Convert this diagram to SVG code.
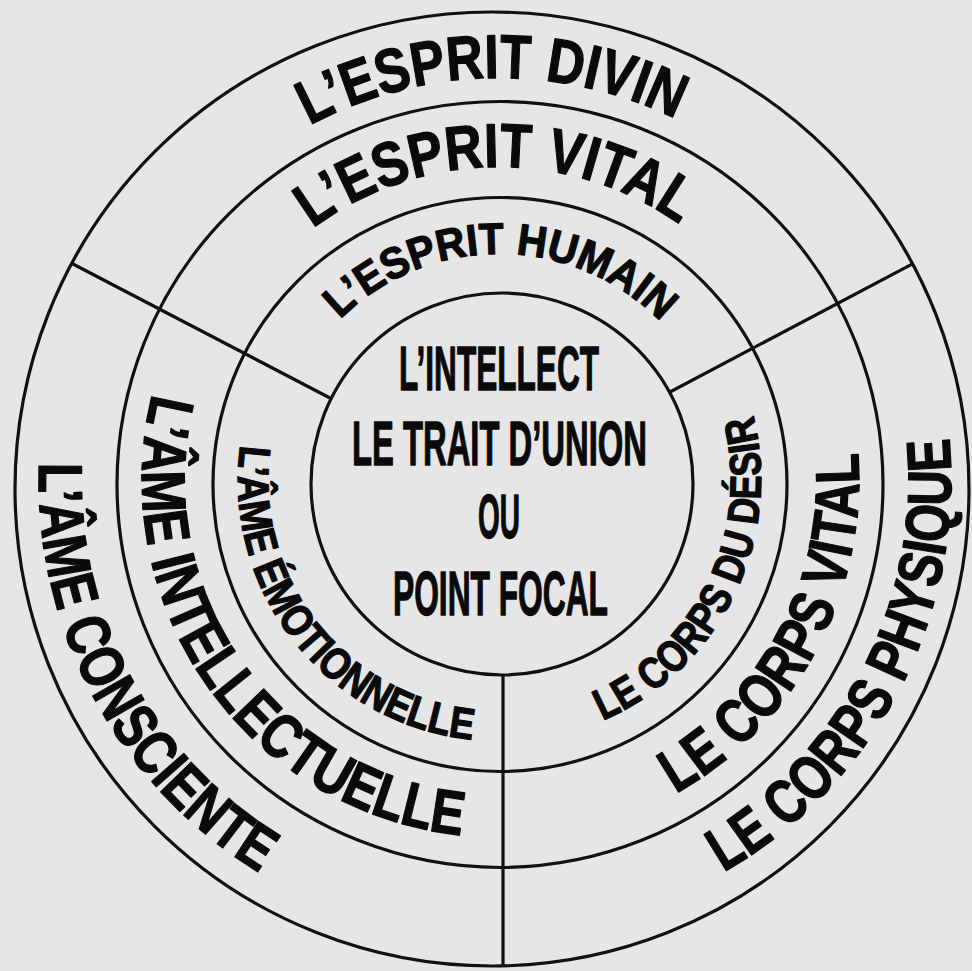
<svg xmlns="http://www.w3.org/2000/svg" xmlns:xlink="http://www.w3.org/1999/xlink" width="972" height="971" viewBox="0 0 972 971">
  <style>
    .ring { fill: none; stroke: #111; stroke-width: 3.2; }
    .div { stroke: #111; stroke-width: 3.2; fill: none; }
    .lbl { font-family: "Liberation Sans", Arial, "DejaVu Sans", sans-serif; font-weight: bold; fill: #0a0a0a; stroke: #0a0a0a; stroke-width: 1.3; stroke-linejoin: round; }
    .big { font-size: 62px; }
    .small { font-size: 44px; }
    .center { font-size: 63px; text-anchor: middle; }
  </style>
  <defs>
    <path id="pDivin" d="M307.8,126.4 A402,402 0 0 1 677.7,119.9"/>
    <path id="pVitalE" d="M311.1,229.7 A313,313 0 0 1 681.2,225.5"/>
    <path id="pHumain" d="M338.6,320.8 A226,226 0 0 1 661.9,323.3"/>
    <path id="pConsc" d="M39.4,459.9 A460,460 0 0 0 262.1,874.3"/>
    <path id="pIntel" d="M153.4,390.6 A357,357 0 0 0 464.8,835.4"/>
    <path id="pEmot" d="M240.7,442.3 A261,261 0 0 0 474.9,739.9"/>
    <path id="pPhys" d="M720.9,873.8 A452,452 0 0 0 948.8,435.1"/>
    <path id="pVitalC" d="M673.5,794.9 A360,360 0 0 0 857.8,450.2"/>
    <path id="pDesir" d="M600.5,721.5 A262,262 0 0 0 752.3,413.1"/>
  </defs>
  <rect width="972" height="971" fill="#e6e6e6"/>

  <g id="rings">
    <circle class="ring" cx="492" cy="489" r="477"/>
    <circle class="ring" cx="500" cy="484.5" r="383"/>
    <circle class="ring" cx="500" cy="484.5" r="287"/>
    <circle class="ring" cx="502" cy="484" r="191"/>
  </g>

  <g id="connectors">
    <line class="div" x1="72" y1="263.5" x2="330" y2="398"/>
    <line class="div" x1="912.5" y1="263.8" x2="670" y2="392"/>
    <line class="div" x1="503" y1="675" x2="503" y2="966"/>
  </g>

  <g id="esprit-divin">
    <text class="lbl big"><textPath href="#pDivin" xlink:href="#pDivin" startOffset="50%" text-anchor="middle" textLength="380" lengthAdjust="spacingAndGlyphs">L’ESPRIT DIVIN</textPath></text>
  </g>
  <g id="esprit-vital">
    <text class="lbl big"><textPath href="#pVitalE" xlink:href="#pVitalE" startOffset="50%" text-anchor="middle" textLength="392" lengthAdjust="spacingAndGlyphs">L’ESPRIT VITAL</textPath></text>
  </g>
  <g id="esprit-humain">
    <text class="lbl small"><textPath href="#pHumain" xlink:href="#pHumain" startOffset="50%" text-anchor="middle" textLength="356" lengthAdjust="spacingAndGlyphs">L’ESPRIT HUMAIN</textPath></text>
  </g>
  <g id="ame-consciente">
    <text class="lbl big"><textPath href="#pConsc" xlink:href="#pConsc" startOffset="50%" text-anchor="middle" textLength="488" lengthAdjust="spacingAndGlyphs">L’ÂME CONSCIENTE</textPath></text>
  </g>
  <g id="ame-intellectuelle">
    <text class="lbl big"><textPath href="#pIntel" xlink:href="#pIntel" startOffset="50%" text-anchor="middle" textLength="610" lengthAdjust="spacingAndGlyphs">L’ÂME INTELLECTUELLE</textPath></text>
  </g>
  <g id="ame-emotionnelle">
    <text class="lbl small"><textPath href="#pEmot" xlink:href="#pEmot" startOffset="50%" text-anchor="middle" textLength="418" lengthAdjust="spacingAndGlyphs">L’ÂME ÉMOTIONNELLE</textPath></text>
  </g>
  <g id="corps-physique">
    <text class="lbl big"><textPath href="#pPhys" xlink:href="#pPhys" startOffset="50%" text-anchor="middle" textLength="517" lengthAdjust="spacingAndGlyphs">LE CORPS PHYSIQUE</textPath></text>
  </g>
  <g id="corps-vital">
    <text class="lbl big"><textPath href="#pVitalC" xlink:href="#pVitalC" startOffset="50%" text-anchor="middle" textLength="408" lengthAdjust="spacingAndGlyphs">LE CORPS VITAL</textPath></text>
  </g>
  <g id="corps-desir">
    <text class="lbl small"><textPath href="#pDesir" xlink:href="#pDesir" startOffset="50%" text-anchor="middle" textLength="370" lengthAdjust="spacingAndGlyphs">LE CORPS DU DÉSIR</textPath></text>
  </g>

  <g id="intellect">
    <text class="lbl center" x="499" y="390" textLength="200" lengthAdjust="spacingAndGlyphs">L’INTELLECT</text>
    <text class="lbl center" x="499.5" y="465" textLength="295" lengthAdjust="spacingAndGlyphs">LE TRAIT D’UNION</text>
    <text class="lbl center" x="499" y="538" textLength="42" lengthAdjust="spacingAndGlyphs">OU</text>
    <text class="lbl center" x="500.5" y="615" textLength="215" lengthAdjust="spacingAndGlyphs">POINT FOCAL</text>
  </g>
</svg>
